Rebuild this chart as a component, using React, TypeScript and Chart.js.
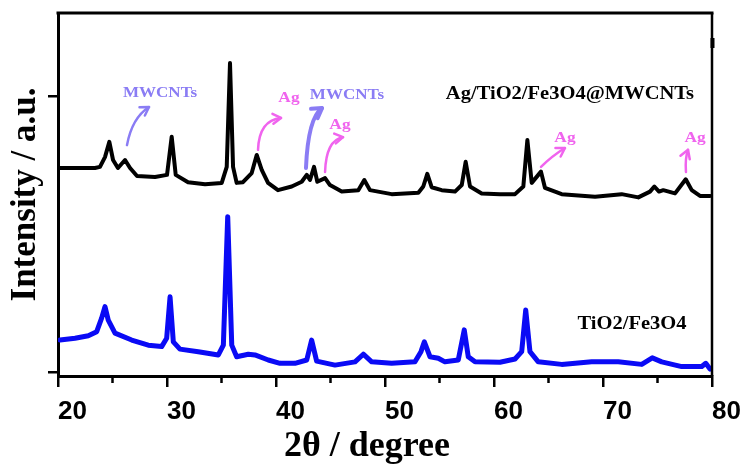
import React, { useEffect, useRef } from 'react';
import { Chart, registerables } from 'chart.js';

Chart.register(...registerables);

// 2θ (degree) and intensity (a.u.)
const angleComposite = [20.18, 23.39, 23.85, 24.31, 24.71, 25.05, 25.5, 26.15, 26.61, 27.25, 28.9, 30.0, 30.43, 30.8, 31.93, 33.49, 35.02, 35.48, 35.78, 36.06, 36.39, 36.97, 37.77, 38.23, 38.69, 39.27, 40.18, 41.44, 42.36, 42.82, 43.12, 43.49, 43.79, 44.5, 44.95, 46.03, 47.55, 48.1, 48.62, 50.61, 53.06, 53.51, 53.88, 54.28, 55.2, 56.42, 57.04, 57.4, 57.8, 58.87, 60.55, 61.93, 62.69, 63.06, 63.46, 64.31, 64.68, 66.21, 69.27, 71.71, 73.24, 74.31, 74.71, 75.14, 75.53, 76.61, 77.59, 78.14, 78.9, 79.82];
const intensityComposite = [57.3, 57.3, 57.6, 60.3, 64.5, 59.5, 57.3, 59.5, 57.3, 55.1, 54.8, 55.4, 65.9, 55.4, 53.4, 52.8, 53.2, 57.6, 86.2, 57.6, 53.2, 53.4, 55.9, 60.9, 56.8, 53.2, 51.2, 52.2, 53.5, 55.4, 54.0, 57.6, 53.5, 54.5, 52.6, 50.8, 51.2, 54.0, 51.2, 50.1, 50.5, 52.2, 55.7, 52.0, 51.2, 50.8, 52.6, 59.0, 52.2, 50.3, 50.1, 50.1, 52.2, 65.0, 53.2, 56.3, 51.8, 50.1, 49.4, 50.1, 49.2, 50.8, 52.2, 50.8, 51.2, 50.3, 54.2, 51.2, 49.6, 49.6];

const angleTiFe = [20.18, 21.56, 22.78, 23.55, 24.01, 24.31, 24.61, 25.23, 26.76, 28.28, 29.51, 29.97, 30.28, 30.58, 31.19, 32.87, 34.71, 35.17, 35.57, 35.94, 36.39, 37.46, 38.07, 39.29, 40.37, 41.74, 42.82, 43.27, 43.73, 45.41, 47.25, 48.01, 48.78, 50.61, 52.75, 53.3, 53.61, 54.13, 54.89, 55.5, 56.72, 57.27, 57.64, 58.26, 60.55, 61.93, 62.54, 62.91, 63.3, 64.06, 66.21, 68.96, 71.4, 73.55, 74.52, 75.39, 77.22, 79.06, 79.43, 79.82];
const intensityTiFe = [9.9, 10.4, 11.1, 12.2, 16.0, 19.1, 15.4, 11.8, 9.9, 8.5, 8.1, 10.4, 21.8, 9.4, 7.4, 6.7, 5.8, 8.5, 43.9, 8.5, 5.3, 6.0, 5.8, 4.4, 3.5, 3.5, 4.4, 9.9, 4.1, 3.0, 3.9, 6.0, 3.9, 3.5, 3.9, 6.7, 9.4, 5.3, 4.9, 3.9, 4.4, 12.7, 5.3, 3.9, 3.8, 4.7, 6.7, 18.2, 6.7, 3.9, 3.2, 3.9, 3.9, 3.2, 5.0, 3.9, 2.6, 2.6, 3.5, 1.9];

const xTickValues = [20, 30, 40, 50, 60, 70, 80];
const xMinorTickValues = [25, 35, 45, 55, 65, 75];
const yTickValues = [1, 77];

const seriesNames = ['Ag/TiO2/Fe3O4@MWCNTs', 'TiO2/Fe3O4'];

const PINK = '#f064ee';
const PURPLE = '#8a7cf4';
const SERIF = "'Liberation Serif', 'Times New Roman', serif";
const SANS = "'Liberation Sans', Arial, sans-serif";

// annotation texts (positions in data units)
const annotationLabels = [
  { text: 'MWCNTs', x: 29.36, y: 77.9, color: PURPLE, size: 15.5, stretch: 1.1 },
  { text: 'Ag', x: 41.19, y: 76.6, color: PINK, size: 15.5, stretch: 1.12 },
  { text: 'MWCNTs', x: 46.51, y: 77.4, color: PURPLE, size: 15.5, stretch: 1.1 },
  { text: 'Ag', x: 45.87, y: 69.2, color: PINK, size: 15.5, stretch: 1.12 },
  { text: 'Ag', x: 66.51, y: 65.6, color: PINK, size: 15.5, stretch: 1.12 },
  { text: 'Ag', x: 78.44, y: 65.6, color: PINK, size: 15.5, stretch: 1.12 },
  { text: seriesNames[0], x: 66.97, y: 77.7, color: '#000', size: 18, stretch: 1.14 },
  { text: seriesNames[1], x: 72.66, y: 14.3, color: '#000', size: 18, stretch: 1.14 },
];

// arrows: start, control, end (data units)
const annotationArrows = [
  { s: [26.33, 63.6], c: [26.79, 71.1], e: [28.35, 74.1], color: PURPLE, width: 2.5 },
  { s: [38.35, 62.3], c: [38.44, 70.5], e: [40.46, 71.1], color: PINK, width: 2.5 },
  { s: [42.75, 57.3], c: [42.94, 71.1], e: [44.22, 73.8], color: PURPLE, width: 4 },
  { s: [44.5, 56.2], c: [44.59, 65.0], e: [46.15, 65.8], color: PINK, width: 2.5 },
  { s: [64.31, 57.6], c: [65.32, 60.6], e: [66.51, 62.8], color: PINK, width: 2.5 },
  { s: [77.61, 56.2], c: [77.52, 60.1], e: [77.8, 62.3], color: PINK, width: 2.5 },
];

function drawArrow(ctx: CanvasRenderingContext2D, S: number[], C: number[], E: number[], color: string, width: number) {
  ctx.strokeStyle = color;
  ctx.lineWidth = width;
  ctx.lineCap = 'round';
  ctx.lineJoin = 'round';
  ctx.beginPath();
  ctx.moveTo(S[0], S[1]);
  ctx.quadraticCurveTo(C[0], C[1], E[0], E[1]);
  ctx.stroke();
  const ang = Math.atan2(E[1] - C[1], E[0] - C[0]);
  const len = 7 + width;
  ctx.beginPath();
  ctx.moveTo(E[0] - len * Math.cos(ang - 0.55), E[1] - len * Math.sin(ang - 0.55));
  ctx.lineTo(E[0], E[1]);
  ctx.lineTo(E[0] - len * Math.cos(ang + 0.55), E[1] - len * Math.sin(ang + 0.55));
  ctx.stroke();
}

const framePlugin = {
  id: 'frameAndNotes',
  afterDraw(chart: any) {
    const { ctx, chartArea: a, scales } = chart;
    const xs = scales.x;
    const ys = scales.y;
    ctx.save();
    ctx.strokeStyle = '#000';
    ctx.lineCap = 'butt';
    ctx.lineWidth = 3;
    ctx.beginPath();
    ctx.moveTo(a.left - 1.5, a.top);
    ctx.lineTo(a.right + 1.5, a.top);
    ctx.stroke();
    ctx.lineWidth = 2.5;
    ctx.beginPath();
    ctx.moveTo(a.right, a.top);
    ctx.lineTo(a.right, a.bottom);
    ctx.stroke();
    ctx.lineWidth = 4;
    ctx.beginPath();
    ctx.moveTo(a.right + 0.5, a.top + 25);
    ctx.lineTo(a.right + 0.5, a.top + 35);
    ctx.stroke();
    ctx.lineWidth = 2.5;
    xMinorTickValues.forEach((v) => {
      const x = xs.getPixelForValue(v);
      ctx.beginPath();
      ctx.moveTo(x, a.bottom);
      ctx.lineTo(x, a.bottom + 7);
      ctx.stroke();
    });
    annotationArrows.forEach((ar) => {
      const S = [xs.getPixelForValue(ar.s[0]), ys.getPixelForValue(ar.s[1])];
      const C = [xs.getPixelForValue(ar.c[0]), ys.getPixelForValue(ar.c[1])];
      const E = [xs.getPixelForValue(ar.e[0]), ys.getPixelForValue(ar.e[1])];
      drawArrow(ctx, S, C, E, ar.color, ar.width);
    });
    annotationLabels.forEach((l) => {
      const x = xs.getPixelForValue(l.x);
      const y = ys.getPixelForValue(l.y);
      ctx.save();
      ctx.translate(x, y);
      ctx.scale(l.stretch, 1);
      ctx.font = `bold ${l.size}px ${SERIF}`;
      ctx.fillStyle = l.color;
      ctx.textAlign = 'center';
      ctx.textBaseline = 'middle';
      ctx.fillText(l.text, 0, 0);
      ctx.restore();
    });
    ctx.restore();
  },
};

export default function App() {
  const ref = useRef<HTMLCanvasElement | null>(null);
  useEffect(() => {
    if (!ref.current) return;
    const chart = new Chart(ref.current, {
      type: 'line',
      data: {
        datasets: [
          {
            label: seriesNames[0],
            data: angleComposite.map((x, i) => ({ x, y: intensityComposite[i] })),
            borderColor: '#000000',
            borderWidth: 4,
            pointRadius: 0,
            tension: 0,
            fill: false,
            borderJoinStyle: 'round',
            borderCapStyle: 'round',
          },
          {
            label: seriesNames[1],
            data: angleTiFe.map((x, i) => ({ x, y: intensityTiFe[i] })),
            borderColor: '#0a0af5',
            borderWidth: 5,
            pointRadius: 0,
            tension: 0,
            fill: false,
            borderJoinStyle: 'round',
            borderCapStyle: 'round',
          },
        ],
      },
      options: {
        animation: false,
        responsive: false,
        layout: { padding: { top: 13, right: 30, left: 0, bottom: 0 } },
        plugins: { legend: { display: false }, tooltip: { enabled: false } },
        scales: {
          x: {
            type: 'linear',
            min: 20,
            max: 80,
            afterBuildTicks: (s: any) => {
              s.ticks = xTickValues.map((v) => ({ value: v }));
            },
            afterFit: (s: any) => {
              s.height = 89;
              s.paddingLeft = 0;
              s.paddingRight = 0;
            },
            ticks: {
              align: 'start',
              padding: 12,
              color: '#000',
              autoSkip: false,
              maxRotation: 0,
              font: { family: SANS, size: 26, weight: 'bold', lineHeight: 1 },
            },
            grid: {
              display: true,
              drawOnChartArea: false,
              drawTicks: true,
              tickLength: 11,
              color: '#000',
              lineWidth: 2.5,
            },
            border: { display: true, color: '#000', width: 3 },
            title: {
              display: true,
              text: '2θ / degree    ',
              color: '#000',
              font: { family: SERIF, size: 36, weight: 'bold', lineHeight: 1 },
              padding: { top: 0, bottom: 0 },
            },
          },
          y: {
            type: 'linear',
            min: 0,
            max: 100,
            afterBuildTicks: (s: any) => {
              s.ticks = yTickValues.map((v) => ({ value: v }));
            },
            afterFit: (s: any) => {
              s.width = 58;
            },
            ticks: { display: false },
            grid: {
              display: true,
              drawOnChartArea: false,
              drawTicks: true,
              tickLength: 10,
              color: '#000',
              lineWidth: 2.5,
            },
            border: { display: true, color: '#000', width: 3 },
            title: {
              display: true,
              text: 'Intensity / a.u.',
              color: '#000',
              font: { family: SERIF, size: 35, weight: 'bold', lineHeight: 1 },
              padding: { top: 8.5, bottom: 0 },
            },
          },
        },
      },
      plugins: [framePlugin],
    } as any);
    return () => chart.destroy();
  }, []);
  return (
    <div style={{ position: 'fixed', left: 0, top: 0, width: 742, height: 465, background: '#fff' }}>
      <canvas ref={ref} width={742} height={465} style={{ display: 'block' }} />
    </div>
  );
}
